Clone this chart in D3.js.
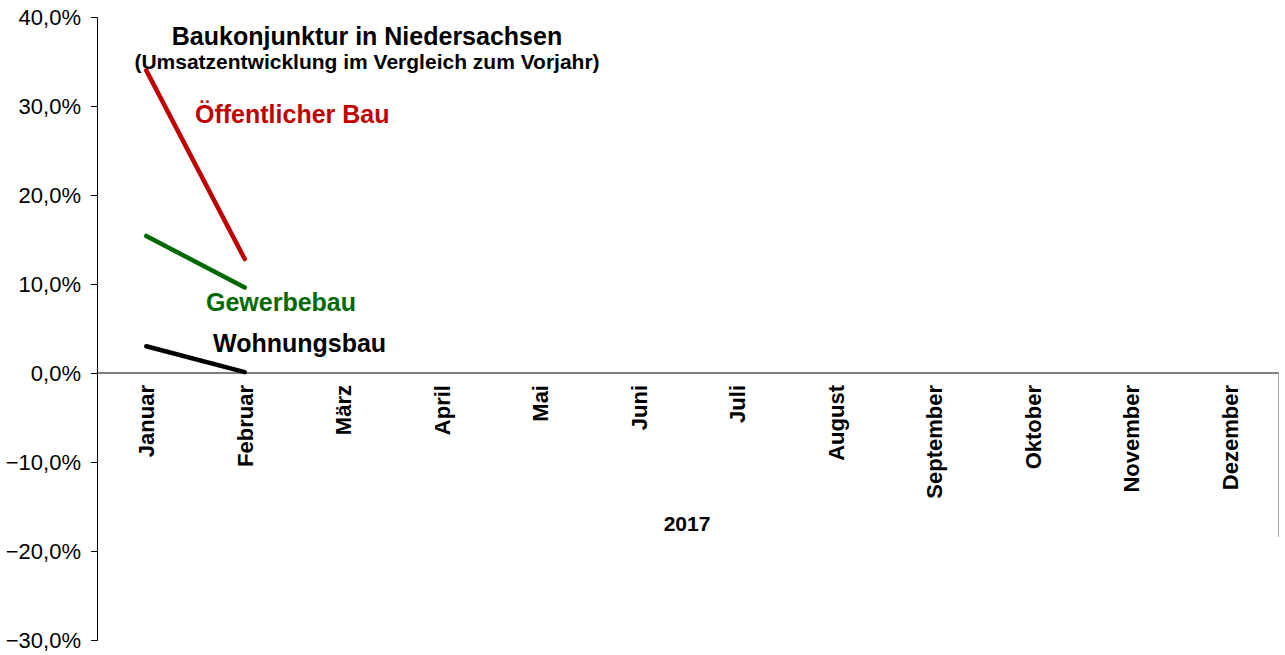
<!DOCTYPE html>
<html>
<head>
<meta charset="utf-8">
<script src="https://cdn.jsdelivr.net/npm/d3@7"></script>
<style>
  body { margin: 0; background: #fff; }
  text { font-family: "Liberation Sans", Arial, sans-serif; }
</style>
</head>
<body>
<div id="chart"></div>
<script>
const months = ["Januar", "Februar", "März", "April", "Mai", "Juni", "Juli",
                "August", "September", "Oktober", "November", "Dezember"];
const oeffentlich = [34.0, 12.8];
const gewerbe = [15.4, 9.6];
const wohnung = [3.0, 0.1];
const yTicks = [40, 30, 20, 10, 0, -10, -20, -30];

const width = 1285, height = 655;
const plotLeft = 97, plotRight = 1279, plotTop = 17, plotBottom = 640;

const svg = d3.select("#chart").append("svg")
    .attr("width", width)
    .attr("height", height);

const x = d3.scaleBand().domain(months).range([plotLeft, plotRight]);
const y = d3.scaleLinear().domain([-30, 40]).range([plotBottom, plotTop]);

const fmt = d => d3.format(".1f")(d).replace(".", ",") + "%";

// y axis
const yAxis = svg.append("g")
    .attr("transform", `translate(${plotLeft},0)`)
    .call(d3.axisLeft(y).tickValues(yTicks).tickFormat(fmt).tickSizeOuter(0).tickSize(6).tickPadding(10));
yAxis.select(".domain").attr("stroke", "#000");
yAxis.selectAll(".tick line").attr("stroke", "#000");
yAxis.selectAll(".tick text")
    .attr("font-size", 22)
    .attr("fill", "#000")
    .style("font-family", "'Liberation Sans', Arial, sans-serif");

// x axis at zero
svg.append("line")
    .attr("x1", plotLeft).attr("x2", plotRight)
    .attr("y1", y(0)).attr("y2", y(0))
    .attr("stroke", "#000");

// right border of plot area
svg.append("line")
    .attr("x1", plotRight - 0.5).attr("x2", plotRight - 0.5)
    .attr("y1", y(0)).attr("y2", 537)
    .attr("stroke", "#aaa");

// month labels
svg.selectAll(".month")
    .data(months)
    .enter().append("text")
    .attr("class", "month")
    .attr("transform", d => `translate(${x(d) + x.bandwidth() / 2 + 8},${y(0) + 12}) rotate(-90)`)
    .attr("text-anchor", "end")
    .attr("font-size", 22)
    .attr("font-weight", "bold")
    .text(d => d);

svg.append("text")
    .attr("x", 687).attr("y", 531)
    .attr("text-anchor", "middle")
    .attr("font-size", 21)
    .attr("font-weight", "bold")
    .text("2017");

// series
const series = [
  {name: "Öffentlicher Bau", values: oeffentlich, color: "#c00000", lx: 195, ly: 123},
  {name: "Gewerbebau", values: gewerbe, color: "#006a00", lx: 206, ly: 311},
  {name: "Wohnungsbau", values: wohnung, color: "#000000", lx: 213, ly: 352}
];

const line = d3.line()
    .x((d, i) => x(months[i]) + x.bandwidth() / 2)
    .y(d => y(d));

svg.selectAll(".series")
    .data(series)
    .enter().append("path")
    .attr("class", "series")
    .attr("d", d => line(d.values))
    .attr("fill", "none")
    .attr("stroke", d => d.color)
    .attr("stroke-width", 4.5)
    .attr("stroke-linecap", "round");

svg.selectAll(".label")
    .data(series)
    .enter().append("text")
    .attr("class", "label")
    .attr("x", d => d.lx)
    .attr("y", d => d.ly)
    .attr("font-size", 25)
    .attr("font-weight", "bold")
    .attr("fill", d => d.color)
    .text(d => d.name);

// title
svg.append("text")
    .attr("x", 367).attr("y", 45)
    .attr("text-anchor", "middle")
    .attr("font-size", 25)
    .attr("font-weight", "bold")
    .text("Baukonjunktur in Niedersachsen");

svg.append("text")
    .attr("x", 367).attr("y", 69)
    .attr("text-anchor", "middle")
    .attr("font-size", 21)
    .attr("font-weight", "bold")
    .text("(Umsatzentwicklung im Vergleich zum Vorjahr)");
</script>
</body>
</html>
